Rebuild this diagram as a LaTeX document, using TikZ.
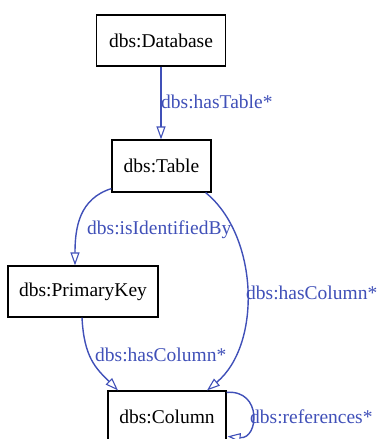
\documentclass[tikz,border=0pt]{standalone}
\usepackage{fontspec}
\setmainfont{Liberation Serif}
\usetikzlibrary{arrows.meta}
\definecolor{edgeblue}{RGB}{64,80,184}
\tikzset{
  cls/.style={draw=black, line width=1.2pt, inner sep=0pt, font=\fontsize{19.5}{23}\selectfont},
  rel/.style={draw=edgeblue, line width=1.4pt, -{Triangle[open, length=13pt, width=9pt, line width=1.1pt]}},
  lbl/.style={text=edgeblue, inner sep=0pt, anchor=west, font=\fontsize{19.5}{23}\selectfont},
}
\begin{document}
\begin{tikzpicture}[x=1pt, y=1pt]
  \useasboundingbox (0,0) rectangle (379,-439);

  % classes
  \node[cls, minimum width=129pt, minimum height=51pt] (db)  at (161,-40.5)   {dbs:Database};
  \node[cls, minimum width=99pt,  minimum height=52pt] (tab) at (161.5,-166)  {dbs:Table};
  \node[cls, minimum width=150pt, minimum height=51pt] (pk)  at (83,-291.5)   {dbs:PrimaryKey};
  \node[cls, minimum width=118pt, minimum height=51pt] (col) at (167,-416.5)  {dbs:Column};

  % properties
  \draw[rel] (db.south) -- (db.south |- tab.north);
  \node[lbl] (lhastable) at (161,-102) {dbs:hasTable*};

  \draw[rel] ([yshift=4pt]tab.south west) .. controls +(-32,-10) and +(0,38) .. ([xshift=-8pt]pk.north);
  \node[lbl] (lident) at (87,-230) {dbs:isIdentifiedBy};

  \draw[rel] ([xshift=-6pt]tab.south east) .. controls +(53,-43) and +(55,46) .. ([xshift=40pt]col.north);
  \node[lbl] (lhascol1) at (246,-293) {dbs:hasColumn*};

  \draw[rel] ([xshift=-1pt]pk.south) .. controls +(2,-40) and +(-22,22) .. ([xshift=-49pt]col.north);
  \node[lbl] (lhascol2) at (95,-355) {dbs:hasColumn*};

  \draw[rel] ([yshift=-2pt]col.north east) .. controls +(36,3) and +(31,-3) .. ([xshift=1pt,yshift=-46pt]col.north east);
  \node[lbl] (lrefs) at (250,-417) {dbs:references*};
\end{tikzpicture}
\end{document}
